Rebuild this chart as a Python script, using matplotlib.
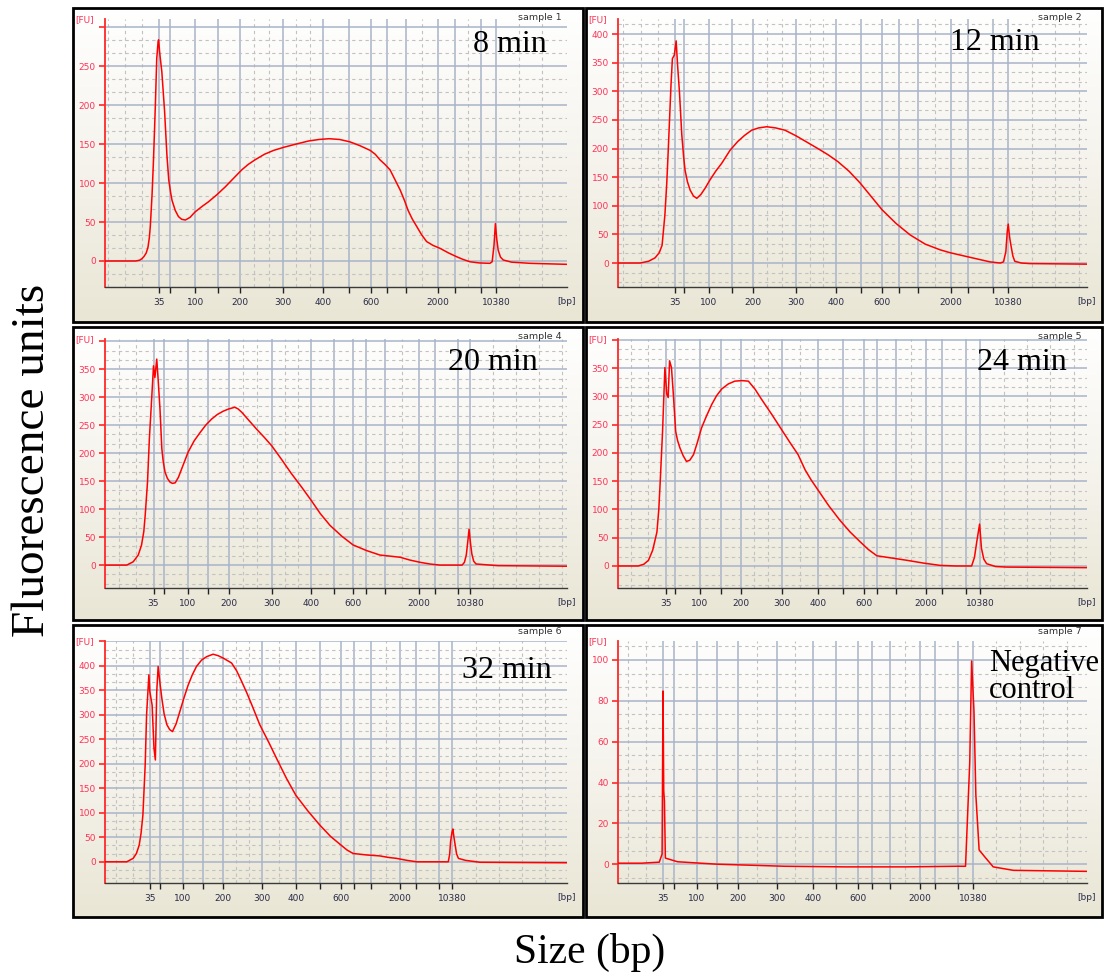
import numpy as np
import matplotlib
matplotlib.use("Agg")
import matplotlib.pyplot as plt
from matplotlib.patches import Rectangle
from matplotlib.colors import LinearSegmentedColormap

# ladder sizes (bp) and which ones carry a label on the size axis
ladder_bp = [35, 50, 100, 150, 200, 300, 400, 500, 600, 700, 1000, 2000, 3000, 7000, 10380]
labeled_bp = [35, 100, 200, 300, 400, 600, 2000, 10380]

# migration position of each ladder size, per sample (0-100 run scale)
s1_ladder = [11.7, 14.1, 19.5, 24.5, 29.2, 38.5, 47.2, 52.8, 57.6, 61.0, 65.2, 72.1, 75.8, 81.4, 84.6]
s2_ladder = [12.2, 14.1, 19.4, 24.3, 28.8, 38.0, 46.5, 51.8, 56.3, 59.9, 64.0, 71.0, 74.6, 80.0, 83.2]
s4_ladder = [10.5, 12.7, 17.9, 22.4, 26.8, 36.1, 44.6, 49.6, 53.7, 56.6, 60.7, 68.0, 71.5, 76.3, 79.0]
s5_ladder = [10.2, 12.2, 17.5, 21.9, 26.2, 34.9, 42.7, 48.0, 52.5, 55.3, 59.2, 65.7, 69.0, 74.1, 77.2]
s6_ladder = [9.7, 11.8, 16.8, 21.2, 25.5, 34.0, 41.3, 46.5, 51.1, 54.0, 57.6, 63.9, 67.3, 72.2, 75.2]
s7_ladder = [9.6, 11.9, 16.8, 21.2, 25.5, 33.9, 41.6, 46.5, 51.1, 54.1, 58.0, 64.3, 67.6, 72.6, 75.7]

# electropherogram traces: run position vs fluorescence [FU]
s1_time = [0, 6.6, 7.5, 8.0, 8.4, 8.9, 9.3, 9.6, 9.8, 10.0, 10.2, 10.5, 10.9, 11.2, 11.5, 11.6,
           11.8, 11.9, 12.3, 12.9, 13.4, 13.8, 14.2, 14.5, 15.2, 15.9, 16.6, 17.4, 18.4, 19.5,
           21.0, 22.4, 24.2, 26.0, 27.8, 29.6, 31.0, 32.5, 34.5, 36.5, 38.7, 41.3, 44.0, 46.3,
           48.5, 50.8, 53.0, 55.2, 57.4, 58.5, 59.5, 60.6, 61.7, 62.8, 63.9, 64.8, 65.6, 66.5,
           67.5, 68.5, 69.6, 71.0, 72.5, 74.3, 76.1, 77.5, 79.0, 81.0, 83.3, 83.8, 84.2, 84.5,
           84.8, 85.1, 85.6, 86.2, 88.0, 92.0, 100]
s1_fu = [0, 0, 1, 3, 5.5, 10, 17.5, 30, 44, 65, 87, 130, 200, 260, 282, 284,
         270, 264, 243, 192, 136, 104, 88, 78, 65, 57, 53.5, 52.6, 56, 63,
         70, 76, 85, 95, 106, 117, 124, 130, 137, 142, 146, 150, 154, 156,
         157, 156, 153, 148, 142, 137, 130, 124, 117, 104, 91, 78, 65, 54,
         44, 34, 25, 20, 16.3, 10.5, 5.5, 2, -1, -2.5, -3, -1, 20, 48,
         28, 14, 5, 1.3, -1.5, -3, -4.3]

s2_time = [0, 4.7, 6.5, 7.9, 8.8, 9.4, 10.0, 10.4, 10.7, 11.3, 11.6, 12.0, 12.4, 12.7, 13.1,
           13.6, 14.0, 14.3, 14.8, 15.4, 16.1, 16.8, 17.7, 18.6, 19.6, 20.8, 22.1, 23.9, 25.5,
           27.0, 28.5, 30.0, 31.7, 33.6, 35.6, 38.0, 40.3, 42.6, 44.8, 46.9, 49.3, 51.6, 54.0,
           56.3, 59.3, 62.3, 65.5, 68.7, 70.8, 72.9, 76.1, 79.3, 81.5, 82.2, 82.7, 83.0, 83.2,
           83.5, 83.8, 84.2, 84.6, 86.0, 87.8, 100]
s2_fu = [0, 0, 3, 9, 18, 31, 84, 140, 194, 311, 357, 363, 388, 346, 299,
         224, 185, 162, 142, 127, 117, 113, 120, 131, 145, 160, 174, 197, 212,
         223, 232, 236, 238, 236, 232, 222, 211, 200, 189, 177, 160, 140, 116,
         93, 69, 49, 33, 23, 18, 14, 8, 2, 0, 2, 20, 55, 68,
         45, 30, 12, 3, 0, -1, -2]

s4_time = [0, 4.7, 6.1, 7.2, 7.9, 8.4, 8.7, 9.2, 9.6, 10.1, 10.5, 10.8, 11.2, 11.5, 11.9,
           12.3, 12.6, 13.0, 13.5, 14.1, 14.6, 15.2, 15.9, 16.6, 18.0, 19.3, 20.6, 21.8, 23.1,
           24.3, 25.6, 26.8, 28.1, 28.8, 29.6, 31.2, 32.8, 34.5, 36.1, 38.2, 40.3, 42.5, 44.6,
           46.6, 48.7, 51.2, 53.7, 56.6, 59.5, 61.7, 63.9, 66.0, 68.2, 70.3, 72.5, 77.3, 77.8,
           78.2, 78.5, 78.8, 79.1, 79.4, 79.8, 80.3, 85.0, 100]
s4_fu = [0, 0, 5.9, 18, 35.6, 60, 89, 148, 225, 297, 356, 335, 368, 332, 279,
         208, 185, 166, 155, 148, 146, 147, 157, 172, 202, 222, 237, 250, 261,
         269, 275, 279, 282, 279, 273, 258, 243, 228, 213, 189, 164, 140, 116,
         92, 71, 52, 36, 26, 18, 16, 14, 9, 5, 2, 0, 0, 5,
         18, 40, 64, 40, 20, 7, 2, -1, -2]

s5_time = [0, 4.3, 5.5, 6.5, 7.4, 8.3, 8.7, 9.0, 9.5, 10.0, 10.4, 10.7, 11.0, 11.4, 11.8,
           12.3, 12.7, 13.2, 13.9, 14.6, 15.3, 16.1, 16.9, 17.8, 18.9, 20.0, 21.0, 22.1, 23.5,
           24.9, 26.4, 27.8, 29.2, 30.6, 32.8, 34.9, 36.7, 38.4, 39.9, 41.2, 42.6, 44.9, 47.3,
           49.5, 51.6, 53.4, 55.2, 58.4, 61.6, 65.2, 68.7, 72.0, 75.4, 76.0, 76.5, 77.1, 77.5,
           78.0, 78.6, 80.5, 82.9, 100]
s5_fu = [0, 0, 3, 10, 28, 60, 100, 149, 238, 351, 304, 298, 363, 351, 304,
         238, 222, 209, 195, 185, 187, 197, 218, 244, 266, 286, 301, 313, 322,
         327, 328, 327, 313, 295, 268, 241, 218, 197, 170, 152, 135, 107, 81,
         60, 43, 29, 18, 14, 10, 5, 1, 0, 0, 15, 43, 74, 31,
         12, 4, -1, -2, -3]

s6_time = [0, 4.7, 6.1, 6.8, 7.4, 7.8, 8.2, 8.7, 9.0, 9.5, 9.7, 10.2, 10.6, 10.9, 11.2,
           11.5, 11.9, 12.3, 12.8, 13.4, 14.0, 14.6, 15.4, 16.2, 17.1, 18.0, 18.9, 19.8, 20.9,
           22.0, 23.4, 24.5, 25.6, 27.4, 28.5, 29.6, 30.7, 31.8, 33.5, 35.5, 37.4, 39.3, 41.3,
           43.9, 46.5, 48.8, 51.1, 52.4, 53.7, 56.6, 59.5, 61.3, 63.1, 65.3, 67.5, 74.3, 74.6,
           74.8, 75.1, 75.3, 75.5, 75.8, 76.1, 76.5, 78.0, 81.2, 100]
s6_fu = [0, 0, 7, 17, 34, 58, 95, 198, 300, 382, 348, 320, 232, 208, 348,
         399, 365, 334, 302, 280, 270, 266, 282, 307, 335, 361, 382, 399, 412,
         419, 424, 421, 416, 406, 390, 368, 345, 320, 280, 243, 206, 170, 136,
         104, 75, 52, 34, 24, 17, 14, 12, 9, 7, 3, 0, 0, 15,
         41, 60, 67, 52, 34, 16, 7, 3, -1, -2]

s7_time = [0, 5.0, 8.8, 9.4, 9.6, 9.75, 9.9, 10.1, 12.7, 21.2, 35.5, 48.3, 61.5, 72.2, 74.1,
           75.0, 75.4, 75.9, 76.3, 77.0, 78.2, 80.0, 84.3, 100]
s7_fu = [0.5, 0.5, 1, 5, 84.8, 36, 31, 3, 1.2, 0, -1, -1.3, -1.3, -1, -1,
         50, 99.5, 75, 34, 7, 3.6, -1.3, -3, -3.5]

sample_names = ["sample 1", "sample 2", "sample 4", "sample 5", "sample 6", "sample 7"]
notes = ["8 min", "12 min", "20 min", "24 min", "32 min", "Negative\ncontrol"]

W, H = 1107, 977


def fig_rect(x0, y0, x1, y1):
    # pixel box (top-left origin) -> figure fraction rect
    return [x0 / W, 1 - y1 / H, (x1 - x0) / W, (y1 - y0) / H]


def minor_positions(ticks):
    pos = []
    p = ticks[0] - 3.7
    while p > 0.5:
        pos.append(p)
        p -= 3.7
    for a, b in zip(ticks, ticks[1:]):
        n = int((b - a) // 2.8)
        for k in range(1, n):
            pos.append(a + (b - a) * k / n)
    p = ticks[-1] + 5.0
    while p < 99.5:
        pos.append(p)
        p += 5.0
    return pos


bg_cmap = LinearSegmentedColormap.from_list("bg", ["#FFFFFF", "#F5F3EC", "#E9E6D5"])
grad = np.linspace(0, 1, 256).reshape(-1, 1)

fu_red = "#FF3355"

fig = plt.figure(figsize=(W / 100, H / 100), dpi=100)

frames = [(73, 8, 583, 322), (586, 8, 1102, 322),
          (73, 327, 583, 620), (586, 327, 1102, 620),
          (73, 625, 583, 917), (586, 625, 1102, 917)]
plots = [(105, 19, 567, 287), (618, 19, 1087, 287),
         (105, 339, 567, 588), (618, 339, 1087, 588),
         (105, 641, 567, 883), (618, 641, 1087, 883)]

traces = [(s1_time, s1_fu), (s2_time, s2_fu), (s4_time, s4_fu),
          (s5_time, s5_fu), (s6_time, s6_fu), (s7_time, s7_fu)]
ladders = [s1_ladder, s2_ladder, s4_ladder, s5_ladder, s6_ladder, s7_ladder]
ylims = [(-33.4, 310.7), (-41.9, 426.2), (-40.9, 403.9), (-39.0, 401.6), (-43.3, 451.0), (-9.2, 109.3)]
ysteps = [50, 50, 50, 50, 50, 20]
ytops = [300, 400, 400, 400, 450, 100]
top_labeled = [False, True, False, False, False, True]
note_xy = [(510, 44), (995, 43), (493, 363), (1022, 363), (507, 670), (989, 677)]
sample_xy = [(562, 17), (1082, 17), (562, 336), (1082, 336), (562, 631), (1082, 631)]

for i in range(6):
    # panel background and frame
    bg = fig.add_axes(fig_rect(*frames[i]), zorder=0)
    bg.imshow(grad, cmap=bg_cmap, aspect="auto", extent=[0, 1, 0, 1])
    bg.set_axis_off()
    x0, y0, x1, y1 = frames[i]
    fig.add_artist(Rectangle((x0 / W, 1 - y1 / H), (x1 - x0) / W, (y1 - y0) / H,
                             transform=fig.transFigure, fill=False, ec="black", lw=2.0, zorder=5))

    ax = fig.add_axes(fig_rect(*plots[i]), zorder=1)
    ax.set_facecolor("none")
    t, fu = traces[i]
    ax.plot(t, fu, color="#FF0000", lw=1.1, zorder=3)

    ax.set_xlim(0, 100)
    ax.set_ylim(*ylims[i])

    ax.set_xticks(ladders[i])
    ax.set_xticklabels([str(b) if b in labeled_bp else "" for b in ladder_bp])
    ax.set_xticks(minor_positions(ladders[i]), minor=True)

    step = ysteps[i]
    yt = list(range(0, ytops[i] + 1, step))
    ylabels = [str(v) for v in yt]
    if not top_labeled[i]:
        ylabels[-1] = ""
    ax.set_yticks(yt)
    ax.set_yticklabels(ylabels)
    s3 = step / 3
    lo, hi = ylims[i]
    ax.set_yticks([k * s3 for k in range(int(np.ceil(lo / s3)), int(np.floor(hi / s3)) + 1) if k % 3],
                  minor=True)

    ax.set_axisbelow(True)
    ax.grid(which="major", color="#A9B4C9", lw=1.1)
    ax.grid(which="minor", color="#C2C2C2", lw=0.8, ls=(0, (3, 3)))

    for side in ("top", "right"):
        ax.spines[side].set_visible(False)
    ax.spines["left"].set_color("#FF2828")
    ax.spines["left"].set_linewidth(1.3)
    ax.spines["bottom"].set_color("#3A3A3A")
    ax.spines["bottom"].set_linewidth(1.0)

    ax.tick_params(axis="y", which="major", colors="#FF2828", labelcolor=fu_red,
                   length=4.5, width=1.2, labelsize=6.5, pad=2)
    ax.tick_params(axis="x", which="major", colors="#222222", labelcolor="#2A2A48",
                   length=4, width=1.0, labelsize=6.5, pad=4)
    ax.tick_params(which="minor", length=0)

    ax.annotate("[FU]", xy=(0, 1), xycoords="axes fraction", xytext=(-14.8, -0.7),
                textcoords="offset points", ha="center", va="center", color=fu_red, fontsize=6.5)
    ax.annotate("[bp]", xy=(1, 0), xycoords="axes fraction", xytext=(0, -10.6),
                textcoords="offset points", ha="center", va="center", color="#2A2A48", fontsize=6.5)

    sx, sy = sample_xy[i]
    fig.text(sx / W, 1 - sy / H, sample_names[i], ha="right", va="center",
             fontsize=6.8, color="#333333", zorder=6)

    nx, ny = note_xy[i]
    if i == 5:
        fig.text(nx / W, 1 - ny / H, notes[i], ha="left", va="center", fontsize=22,
                 family="Liberation Serif", linespacing=0.95, zorder=6)
    else:
        fig.text(nx / W, 1 - ny / H, notes[i], ha="center", va="center", fontsize=23,
                 family="Liberation Serif", zorder=6)

fig.text(33 / W, 1 - 460 / H, "Fluorescence units", rotation=90, ha="center", va="center",
         fontsize=34, family="Liberation Serif")
fig.text(590 / W, 1 - 952 / H, "Size (bp)", ha="center", va="center",
         fontsize=30, family="Liberation Serif")

fig.savefig("out.png", dpi=100)
